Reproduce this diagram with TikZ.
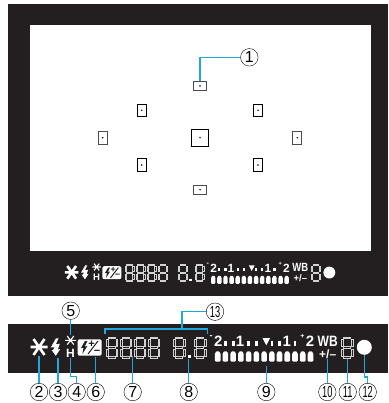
\documentclass[tikz,border=0pt]{standalone}
\usepackage{fontspec}
\setmainfont{Liberation Sans}
\usepackage{xcolor}
\usetikzlibrary{calc}
\definecolor{vfblack}{HTML}{231F20}
\definecolor{vfleader}{HTML}{1FA8DC}

% one seven segment digit, top left corner at (#1,#2)
\newcommand{\segdigit}[2]{%
  \begin{scope}[shift={(#1,#2)}]
    \foreach \a/\b/\c/\d in {2.2/0/9.3/1.8, 2.2/9.9/9.3/11.7, 2.2/19.8/9.3/21.6,
        0/2.2/1.8/9.4, 9.7/2.2/11.5/9.4, 0/12.2/1.8/19.4, 9.7/12.2/11.5/19.4}
      \draw[seg] (\a,\b) rectangle (\c,\d);
  \end{scope}}

% status line, #1 is the prefix of its node names
\newcommand{\drawpanel}[1]{%
  % flash ready star
  \draw[star] (30.5,347) -- (47.5,347) (33.5,339) -- (44.5,355) (44.5,339) -- (33.5,355);
  % flash bolt
  \fill[white] (56,338.3) -- (50.8,347.5) -- (54.8,347.2) -- (53,350) -- (51.6,350)
    -- (55.8,355.8) -- (60.2,349) -- (57.8,349.5) -- (59.8,343.8) -- (55.8,344.3) -- (58.6,338.3) -- cycle;
  % small star and H
  \draw[star, line width=1.1pt] (65,340.3) -- (76,340.3) (67.2,336) -- (73.8,344.6) (73.8,336) -- (67.2,344.6);
  \node[hilite] (#1-h) at (70.5,353) {H};
  % exposure compensation box
  \fill[white, rounded corners=2pt] (77.7,339.3) rectangle (101.7,355.7);
  \fill[vfblack] (85,341) -- (81,348) -- (83.6,347.8) -- (82.3,354) -- (87.3,346.2) -- (84.8,346.4) -- (87.4,341) -- cycle;
  \node[fecsign] (#1-plus) at (91.5,344) {+};
  \node[fecsign] (#1-minus) at (97,352) {−};
  \draw[vfblack, line width=1pt] (88,354) -- (98,341);
  % shutter and aperture digits
  \foreach \x in {106,120,134,148,173.3,194.3,341.3}
    \segdigit{\x}{336.7}
  \fill[white] (187.5,355) rectangle (190.5,358.3);
  % exposure scale
  \foreach \x in {0,...,12}
    \fill[white, rounded corners=1.2pt] ($(217.7,361.7)+(\x*7.73-2.8,0)$) -- ++(0,-9) -- ++(2.8,-2) -- ++(2.8,2) -- ++(0,9) -- cycle;
  \foreach \x in {225.4,233.2,248.6,256.4,272,279.7,295}
    \fill[white] (\x-1.4,341) rectangle (\x+1.4,345.6);
  \fill[white] (266.3,345.3) -- (262.6,338.2) -- (270,338.2) -- cycle;
  \node[scalenum] (#1-two) at (218.3,341.5) {2};
  \node[scalenum] (#1-onea) at (240,341.5) {1};
  \node[scalenum] (#1-oneb) at (286.7,341.5) {1};
  \node[scalenum] (#1-twob) at (310,341.5) {2};
  \node[scalesign] (#1-less) at (211,336.8) {-};
  \node[scalesign, font=\bfseries\fontsize{7}{7}\selectfont] (#1-more) at (302.3,336) {+};
  % white balance
  \node[scalenum, xscale=.8] (#1-wb) at (327.7,341.3) {WB};
  \node[scalenum, font=\bfseries\fontsize{12}{12}\selectfont] (#1-wbpm) at (327.7,354.5) {+/–};
  % focus indicator
  \fill[white] (364.3,347.3) circle (7.5);
}

\begin{document}
\begin{tikzpicture}[
    x=1pt, y=-1pt,
    seg/.style={draw=white!80!vfblack, line width=.35pt},
    star/.style={draw=white, line width=2.6pt},
    hilite/.style={text=white, font=\bfseries\fontsize{12}{12}\selectfont, inner sep=0pt, transform shape},
    fecsign/.style={text=vfblack, font=\bfseries\fontsize{11}{11}\selectfont, inner sep=0pt, transform shape},
    scalenum/.style={text=white, font=\bfseries\fontsize{15}{15}\selectfont, inner sep=0pt, transform shape},
    scalesign/.style={text=white, font=\bfseries\fontsize{9}{9}\selectfont, inner sep=0pt, transform shape},
    fpmark/.style={draw=#1, line width=.8pt, inner sep=0pt, path picture={
        \fill[black] (path picture bounding box.center) circle (.8pt);}},
    fpmark/.default=black,
    wide/.style={fpmark=black!70, minimum width=13.5pt, minimum height=9pt},
    tall/.style={fpmark=black, minimum width=9pt, minimum height=12.5pt},
    num/.style={draw=black, line width=.4pt, circle, inner sep=0pt, minimum size=17.5pt,
        font=\fontsize{16}{16}\selectfont},
    leader/.style={draw=vfleader, line width=1.1pt}
  ]
  \useasboundingbox (0,0) rectangle (388,403);
  % viewfinder frame and lower band
  \fill[vfblack] (8,4) rectangle (388,296);
  \fill[white] (30,25) rectangle (371,251);
  \fill[vfblack] (8,324) rectangle (388,373);

  % focus points
  \node[wide] (fptop) at (200,86) {};
  \node[wide] (fpbottom) at (200,189.7) {};
  \foreach \name/\x/\y in {fpul/141.7/110.3, fpur/258/110.3, fpll/141.7/165, fplr/258/165}
    \node[tall] (\name) at (\x,\y) {};
  \node[tall, fpmark=black!70] (fpleft) at (102.7,137.7) {};
  \node[tall, fpmark=black!70] (fpright) at (297.3,137.7) {};
  \node[fpmark=black, minimum size=17pt] (fpcentre) at (200,137.7) {};

  % both status lines
  \begin{scope}[shift={(40.8,-2.5)}, scale=.792]
    \drawpanel{up}
  \end{scope}
  \drawpanel{lo}

  % callouts
  \node[num] (n1) at (249.3,57.3) {1};
  \node[num] (n5) at (70.7,310.7) {5};
  \node[num] (n13) at (215,311.7) {\scalebox{.58}[1]{13}};
  \foreach \n/\x in {2/39, 3/58, 4/76.7, 6/95.7, 7/132.7, 8/188.7, 9/266.3}
    \node[num] (n\n) at (\x,392) {\n};
  \foreach \n/\x in {10/327.3, 11/347.7, 12/367.7}
    \node[num] (n\n) at (\x,392) {\scalebox{.58}[1]{\n}};

  \coordinate (c1) at (200,80.7);
  \coordinate (c5) at (70.7,335);
  \coordinate (c4) at (70.7,358);
  \coordinate (k4) at (76.7,376.7);
  \coordinate (c12) at (364.5,355);
  \coordinate (k12) at (367.7,377);
  \coordinate (brl) at (105,333.5);
  \coordinate (brr) at (207.3,333.5);
  \coordinate (brm) at (182,329);

  \draw[leader] (c1) |- (n1);
  \draw[leader] (n5) -- (c5);
  \draw[leader] (c4) |- (k4) -- (n4);
  \draw[leader] (c12) |- (k12) -- (n12);
  \foreach \n/\x/\y in {2/39/355.7, 3/58/358, 6/95.7/356.7, 7/132.7/356, 8/188.7/359, 9/266.3/366, 10/327.3/359, 11/347.7/359} {
    \coordinate (c\n) at (\x,\y);
    \draw[leader] (c\n) -- (n\n);
  }
  \draw[leader] (brl) |- (brm) -| (brr);
  \draw[leader] (brm) |- (n13);
\end{tikzpicture}
\end{document}
